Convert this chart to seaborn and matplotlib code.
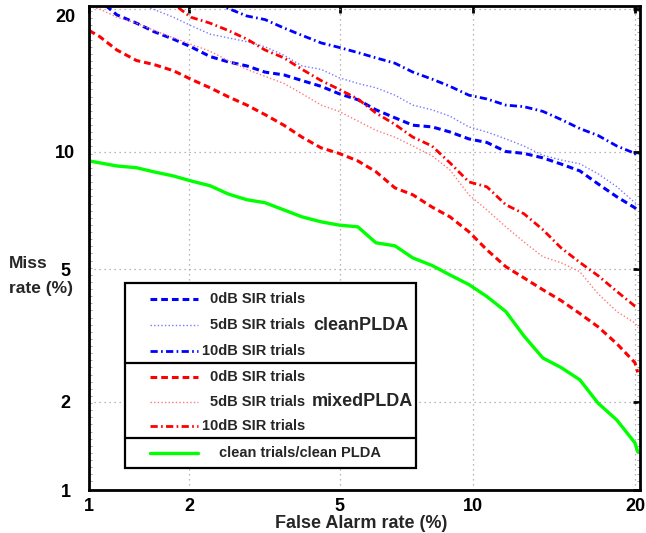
import math
import numpy as np
import matplotlib
matplotlib.use('Agg')
import matplotlib.pyplot as plt
import matplotlib.transforms as mtransforms
from matplotlib.lines import Line2D
from matplotlib.patches import Rectangle
from matplotlib.ticker import FixedLocator, FixedFormatter
import seaborn as sns

# false alarm rate (%) sample points shared by all curves
fa = [1.0, 1.08, 1.22, 1.40, 1.58, 1.80, 2.02, 2.29, 2.57, 2.89, 3.23, 3.62, 4.03, 4.50, 4.98, 5.53,
      6.10, 6.75, 7.41, 8.17, 8.93, 9.79, 10.66, 11.64, 12.63, 13.73, 14.84, 16.06, 17.29, 18.64, 19.98, 20.2]

# miss rate (%) - clean PLDA
miss_clean_0db = [21.4, 20.75, 19.5, 18.8, 18.1, 17.5, 16.9, 16.15, 15.75, 15.45, 15.0, 14.8, 14.4, 14.0, 13.5, 13.1,
                  12.45, 11.95, 11.5, 11.4, 11.1, 10.7, 10.5, 10.0, 9.9, 9.66, 9.34, 8.99, 8.36, 7.76, 7.28, 7.15]
miss_clean_5db = [21.2, 20.55, 19.95, 19.3, 18.6, 17.9, 17.6, 17.3, 16.9, 16.25, 15.45, 15.2, 14.6, 14.2,
                  13.9, 13.4, 12.75, 12.45, 12.05, 11.4, 11.1, 10.7, 10.3, 9.8, 9.55, 9.35, 8.85, 8.22, 7.50, 7.41]
miss_clean_10db = [21.2, 20.65, 20.05, 19.4, 19.1, 18.4, 17.8, 17.2, 16.85, 16.45, 16.05, 15.65, 15.0,
                   14.5, 14.0, 13.4, 13.15, 12.75, 12.65, 12.35, 11.85, 11.3, 10.9, 10.3, 9.9, 9.7]

# miss rate (%) - mixed PLDA
miss_mixed_0db = [18.2, 17.7, 16.65, 15.85, 15.55, 15.1, 14.5, 13.9, 13.3, 12.75, 12.15, 11.5, 10.8, 10.2, 9.9, 9.5,
                  8.95, 8.17, 7.85, 7.31, 6.90, 6.31, 5.65, 5.08, 4.73, 4.38, 4.08, 3.74, 3.42, 3.04, 2.66, 2.48]
miss_mixed_5db = [20.2, 20.0, 19.3, 18.8, 18.2, 17.6, 17.1, 16.55, 15.85, 15.2, 14.7, 14.2, 13.5, 12.75, 12.35, 11.75,
                  11.2, 10.8, 10.3, 9.77, 9.04, 7.85, 7.19, 6.50, 5.93, 5.41, 5.21, 4.92, 4.27, 3.79, 3.51, 3.40]
miss_mixed_10db = [21.5, 20.45, 19.3, 18.8, 18.2, 17.5, 16.65, 16.05, 15.2, 14.4, 13.8, 13.15, 12.25, 11.55,
                   10.8, 10.3, 9.4, 8.45, 8.22, 7.41, 7.03, 6.39, 5.72, 5.22, 4.80, 4.33, 3.93, 3.90]

# clean trials / clean PLDA
miss_clean_clean = [9.50, 9.40, 9.24, 9.15, 8.94, 8.74, 8.50, 8.27, 7.89, 7.63, 7.50, 7.19, 6.90, 6.70, 6.57, 6.50,
                    5.90, 5.79, 5.37, 5.12, 4.82, 4.53, 4.19, 3.79, 3.21, 2.75, 2.57, 2.35, 1.98, 1.74, 1.46, 1.36]

ticks = [1, 2, 5, 10, 20]
tick_labels = ['1', '2', '5', '10', '20']

# normal deviate (probit) axis, percent in -> z out
_z = np.linspace(-5, 5, 5001)
_p = 100 * 0.5 * (1 + np.array([math.erf(v / math.sqrt(2)) for v in _z]))


def probit(p):
    return np.interp(p, _p, _z)


def inv_probit(z):
    return np.interp(z, _z, _p)


sns.set_style('white')
plt.rcParams['font.family'] = ['Liberation Sans', 'DejaVu Sans']
plt.rcParams['font.weight'] = 'bold'

fig = plt.figure(figsize=(6.46, 5.33), dpi=100)
ax = fig.add_axes([89 / 646, 43 / 533, 551 / 646, 484 / 533])

blue = '#0000ff'
red = '#ff0000'
series = [
    (fa, miss_clean_0db, blue, (0, (2.2, 1.3)), 2.2),
    (fa[2:], miss_clean_5db, '#7878ff', (0, (1, 1.6)), 1.0),
    (fa[6:], miss_clean_10db, blue, (0, (2.6, 1.2, 0.6, 1.2)), 2.0),
    (fa, miss_mixed_0db, red, (0, (2.2, 1.3)), 2.2),
    (fa, miss_mixed_5db, '#ff7878', (0, (1, 1.6)), 1.0),
    (fa[4:], miss_mixed_10db, red, (0, (2.6, 1.2, 0.6, 1.2)), 2.0),
    (fa, miss_clean_clean, '#00ff00', '-', 2.4),
]
for x, y, c, ls, lw in series:
    sns.lineplot(x=x, y=y, ax=ax, color=c, linestyle=ls, linewidth=lw,
                 estimator=None, sort=False, legend=False)

ax.set_xscale('function', functions=(probit, inv_probit))
ax.set_yscale('function', functions=(probit, inv_probit))
ax.set_xlim(1, 20.37)
ax.set_ylim(1, 20.26)

for axis in (ax.xaxis, ax.yaxis):
    axis.set_major_locator(FixedLocator(ticks))
    axis.set_major_formatter(FixedFormatter(tick_labels))
ax.xaxis.set_minor_locator(FixedLocator([]))
ax.yaxis.set_minor_locator(FixedLocator(list(inv_probit(np.arange(-2.30, -0.84, 0.022)))))

ax.grid(True, which='major', color='#a0a0a0', linestyle=(0, (1, 3)), linewidth=0.9)
for s in ax.spines.values():
    s.set_linewidth(2.0)
    s.set_color('black')
ax.tick_params(which='major', direction='in', length=5, width=2, top=True, right=True,
               labelsize=13, colors='black')
ax.tick_params(which='minor', direction='in', length=2, width=0.6, left=True, right=True,
               color='#909090')
ax.tick_params(axis='x', pad=6)
ax.tick_params(axis='y', pad=17)
for lab in ax.get_yticklabels():
    lab.set_horizontalalignment('center')
ax.get_yticklabels()[-1].set_verticalalignment('top')
ax.set_xlabel('')
ax.set_ylabel('')

# reference pixel coordinates (origin top-left) for annotations
px = mtransforms.Affine2D().scale(1 / 646, -1 / 533).translate(0, 1) + fig.transFigure

fig.text(361, 523, 'False Alarm rate (%)', transform=px, ha='center', va='center', fontsize=13)
fig.text(9, 264, 'Miss', transform=px, ha='left', va='center', fontsize=12.5)
fig.text(9, 289, 'rate (%)', transform=px, ha='left', va='center', fontsize=12.5)

# legend box
fig.add_artist(Rectangle((125, 283), 291, 185, transform=px, facecolor='white',
                         edgecolor='black', linewidth=1.6, zorder=5))
for ysep in (363, 438):
    fig.add_artist(Line2D([125, 416], [ysep, ysep], transform=px, color='black', lw=1.6, zorder=6))

rows = [299, 325, 351, 377, 402, 426]
row_labels = ['0dB SIR trials', '5dB SIR trials', '10dB SIR trials'] * 2
for (x, y, c, ls, lw), ry, lab in zip(series[:6], rows, row_labels):
    fig.add_artist(Line2D([150, 198], [ry, ry], transform=px, color=c, linestyle=ls, lw=lw, zorder=6))
    fig.text(305, ry, lab, transform=px, ha='right', va='center', fontsize=10.5, zorder=7)
fig.text(313, 325, 'cleanPLDA', transform=px, ha='left', va='center', fontsize=13, zorder=7)
fig.text(312, 402, 'mixedPLDA', transform=px, ha='left', va='center', fontsize=13, zorder=7)
x, y, c, ls, lw = series[6]
fig.add_artist(Line2D([150, 198], [453, 453], transform=px, color=c, linestyle=ls, lw=lw, zorder=6))
fig.text(300, 453, 'clean trials/clean PLDA', transform=px, ha='center', va='center', fontsize=10.5, zorder=7)

fig.savefig('out.png', dpi=100)
